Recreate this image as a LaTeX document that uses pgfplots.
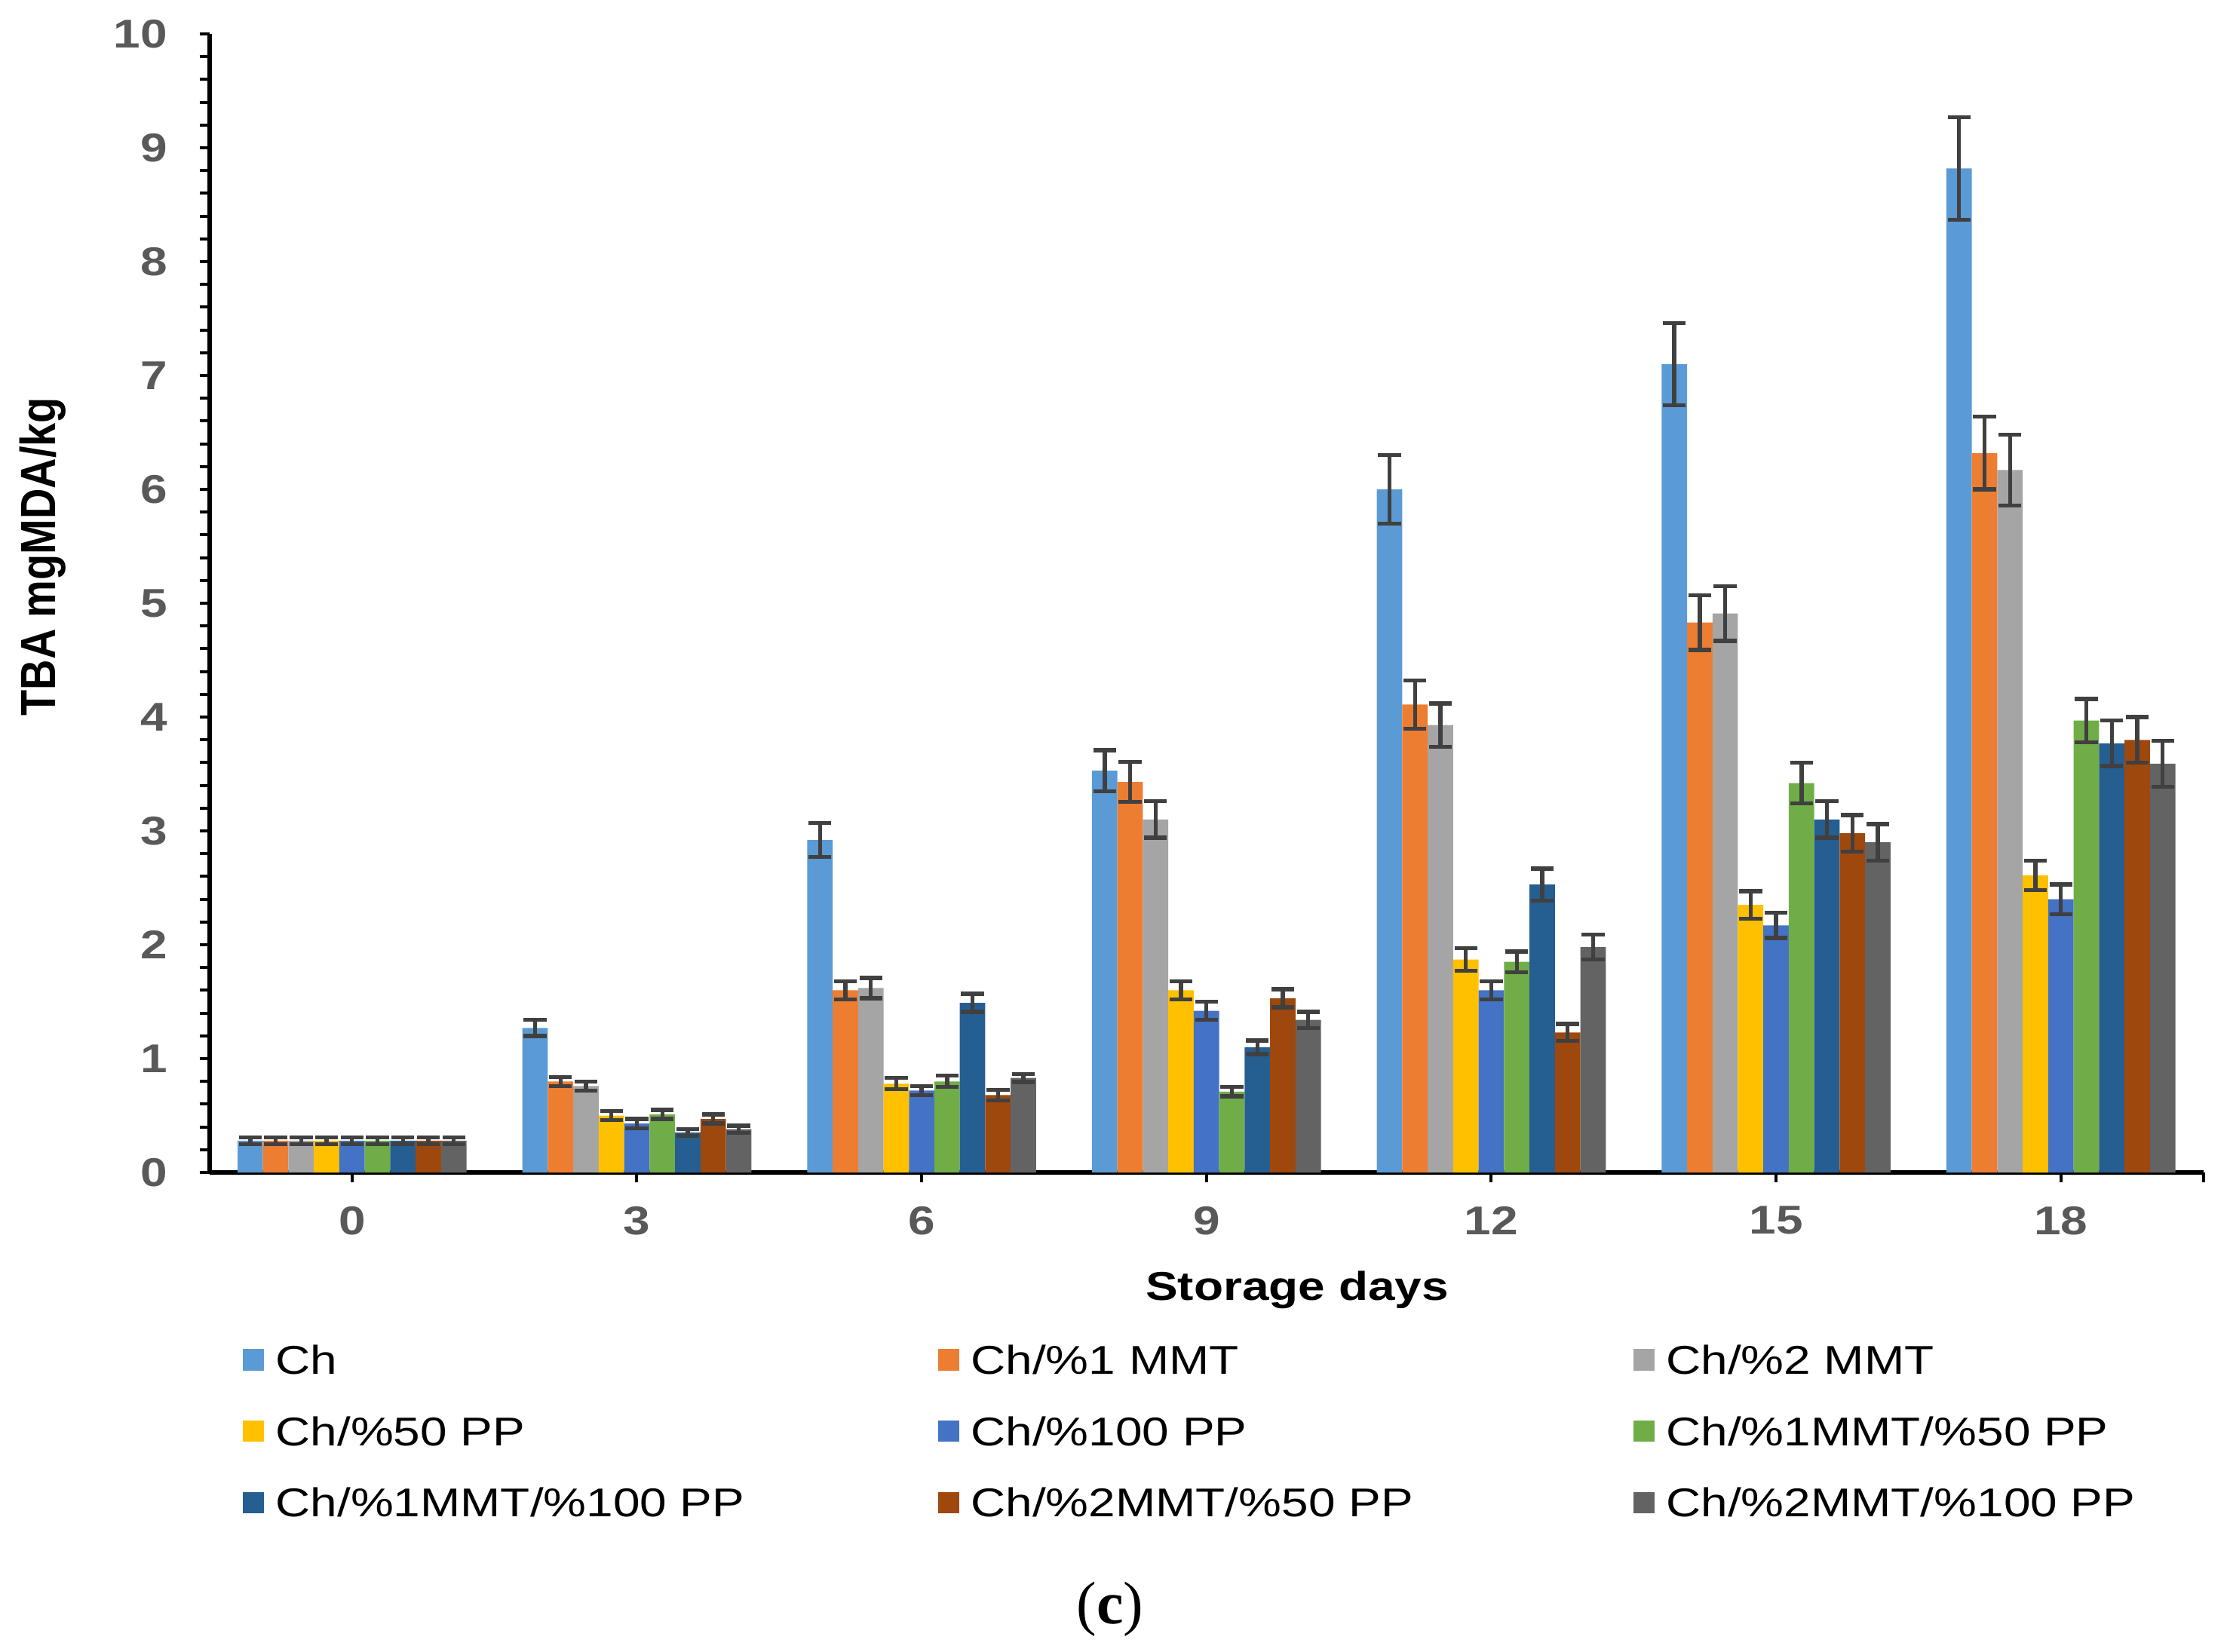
\documentclass[border=0pt]{standalone}
\usepackage{pgfplots}
\pgfplotsset{compat=1.18}
\usepackage{fontspec}
\setmainfont{Liberation Sans}[FakeStretch=1.2]
\newfontfamily\ylfont{Liberation Sans}
\newfontfamily\capfont{Liberation Serif}
\definecolor{cCh}{HTML}{5B9BD5}
\definecolor{cMa}{HTML}{ED7D31}
\definecolor{cMb}{HTML}{A5A5A5}
\definecolor{cPa}{HTML}{FFC000}
\definecolor{cPb}{HTML}{4472C4}
\definecolor{cMaPa}{HTML}{70AD47}
\definecolor{cMaPb}{HTML}{255E91}
\definecolor{cMbPa}{HTML}{9E480E}
\definecolor{cMbPb}{HTML}{636363}
\definecolor{tickgray}{HTML}{595959}
\definecolor{errgray}{HTML}{404040}
\pgfplotsset{sq/.style={legend image code/.code={\fill[##1] (0mm,-0.75mm) rectangle (1.5mm,0.75mm);}}}
\newcommand{\legtext}[1]{\makebox[46.35mm][l]{#1}}
\begin{document}
\begin{tikzpicture}
\useasboundingbox (-14.67mm,-33.51mm) rectangle (141.37mm,82.06mm);
\begin{axis}[
  at={(0,0)}, anchor=south west,
  width=139.5mm, height=79.68mm, scale only axis,
  xmin=-1.5, xmax=19.5, ymin=0, ymax=10,
  axis x line*=bottom, axis y line*=left,
  axis line style={black, line width=1pt},
  xtick={0,3,...,18}, extra x ticks={19.5}, extra x tick labels={},
  ytick={0,1,...,10}, minor y tick num=4,
  tick align=outside, major tick length=0.7mm, minor tick length=0.7mm,
  tick style={black, line width=0.6pt},
  /pgf/number format/assume math mode=true,
  tick label style={font=\fontsize{8}{9.6}\selectfont\bfseries, text=tickgray},
  yticklabel style={anchor=east, inner sep=0pt, xshift=-2.2mm},
  xticklabel style={anchor=north, inner sep=0pt, yshift=-1.6mm},
  xlabel={Storage days},
  xlabel style={at={(axis description cs:0.5455,0)}, anchor=center, yshift=-8.2mm, font=\fontsize{8}{9.6}\selectfont\bfseries, text=black},
  ylabel={\scalebox{1}[1.17]{\ylfont\fontsize{8.4}{10}\selectfont\bfseries TBA mgMDA/kg}},
  ylabel style={at={(axis description cs:-0.0837,0.541)}, anchor=center, rotate=0},
  ybar=0pt, bar width=0.268,
  error bars/y dir=both, error bars/y explicit,
  error bars/error bar style={line width=0.8pt, color=errgray},
  error bars/error mark options={rotate=90, line width=0.8pt, mark size=0.8mm, color=errgray},
  legend columns=3, legend cell align=left,
  legend style={at={(axis description cs:0,0)}, anchor=north west, xshift=2.32mm, yshift=-12.1mm,
    draw=none, fill=none, inner sep=0pt, outer sep=0pt, row sep=3.0mm,
    font=\fontsize{8}{9.6}\selectfont,
    nodes={inner sep=0pt, text height=2.0mm, text depth=0mm},
    /tikz/every odd column/.style={column sep=0.8mm},
    /tikz/every even column/.style={column sep=0pt}},
]
\addplot[fill=cCh, draw=none, sq] coordinates {
 (0,0.28) +- (0,0.03) (3,1.27) +- (0,0.07) (6,2.92) +- (0,0.15) (9,3.53) +- (0,0.18)
 (12,6.00) +- (0,0.30) (15,7.10) +- (0,0.36) (18,8.82) +- (0,0.45)};
\addlegendentry{\legtext{Ch}}
\addplot[fill=cMa, draw=none, sq] coordinates {
 (0,0.28) +- (0,0.03) (3,0.80) +- (0,0.04) (6,1.60) +- (0,0.08) (9,3.43) +- (0,0.175)
 (12,4.11) +- (0,0.21) (15,4.83) +- (0,0.24) (18,6.32) +- (0,0.32)};
\addlegendentry{\legtext{Ch/\%1 MMT}}
\addplot[fill=cMb, draw=none, sq] coordinates {
 (0,0.28) +- (0,0.03) (3,0.76) +- (0,0.04) (6,1.62) +- (0,0.09) (9,3.10) +- (0,0.16)
 (12,3.93) +- (0,0.19) (15,4.91) +- (0,0.24) (18,6.17) +- (0,0.31)};
\addlegendentry{\legtext{Ch/\%2 MMT}}
\addplot[fill=cPa, draw=none, sq] coordinates {
 (0,0.28) +- (0,0.03) (3,0.50) +- (0,0.04) (6,0.78) +- (0,0.05) (9,1.60) +- (0,0.08)
 (12,1.87) +- (0,0.10) (15,2.35) +- (0,0.12) (18,2.61) +- (0,0.13)};
\addlegendentry{\legtext{Ch/\%50 PP}}
\addplot[fill=cPb, draw=none, sq] coordinates {
 (0,0.28) +- (0,0.03) (3,0.43) +- (0,0.04) (6,0.72) +- (0,0.04) (9,1.42) +- (0,0.08)
 (12,1.60) +- (0,0.08) (15,2.17) +- (0,0.11) (18,2.40) +- (0,0.13)};
\addlegendentry{\legtext{Ch/\%100 PP}}
\addplot[fill=cMaPa, draw=none, sq] coordinates {
 (0,0.28) +- (0,0.03) (3,0.51) +- (0,0.04) (6,0.80) +- (0,0.05) (9,0.71) +- (0,0.04)
 (12,1.85) +- (0,0.09) (15,3.42) +- (0,0.18) (18,3.97) +- (0,0.19)};
\addlegendentry{\legtext{Ch/\%1MMT/\%50 PP}}
\addplot[fill=cMaPb, draw=none, sq] coordinates {
 (0,0.28) +- (0,0.03) (3,0.35) +- (0,0.03) (6,1.49) +- (0,0.08) (9,1.10) +- (0,0.06)
 (12,2.53) +- (0,0.14) (15,3.10) +- (0,0.16) (18,3.77) +- (0,0.20)};
\addlegendentry{\legtext{Ch/\%1MMT/\%100 PP}}
\addplot[fill=cMbPa, draw=none, sq] coordinates {
 (0,0.28) +- (0,0.03) (3,0.47) +- (0,0.04) (6,0.68) +- (0,0.045) (9,1.53) +- (0,0.08)
 (12,1.23) +- (0,0.075) (15,2.98) +- (0,0.16) (18,3.80) +- (0,0.20)};
\addlegendentry{\legtext{Ch/\%2MMT/\%50 PP}}
\addplot[fill=cMbPb, draw=none, sq] coordinates {
 (0,0.28) +- (0,0.03) (3,0.38) +- (0,0.03) (6,0.83) +- (0,0.035) (9,1.34) +- (0,0.07)
 (12,1.98) +- (0,0.11) (15,2.90) +- (0,0.16) (18,3.59) +- (0,0.20)};
\addlegendentry{\legtext{Ch/\%2MMT/\%100 PP}}
\end{axis}
\node[font=\capfont\fontsize{12}{14}\selectfont, anchor=center] at (63.0mm,-30.55mm) {(\textbf{c})};
\end{tikzpicture}
\end{document}
